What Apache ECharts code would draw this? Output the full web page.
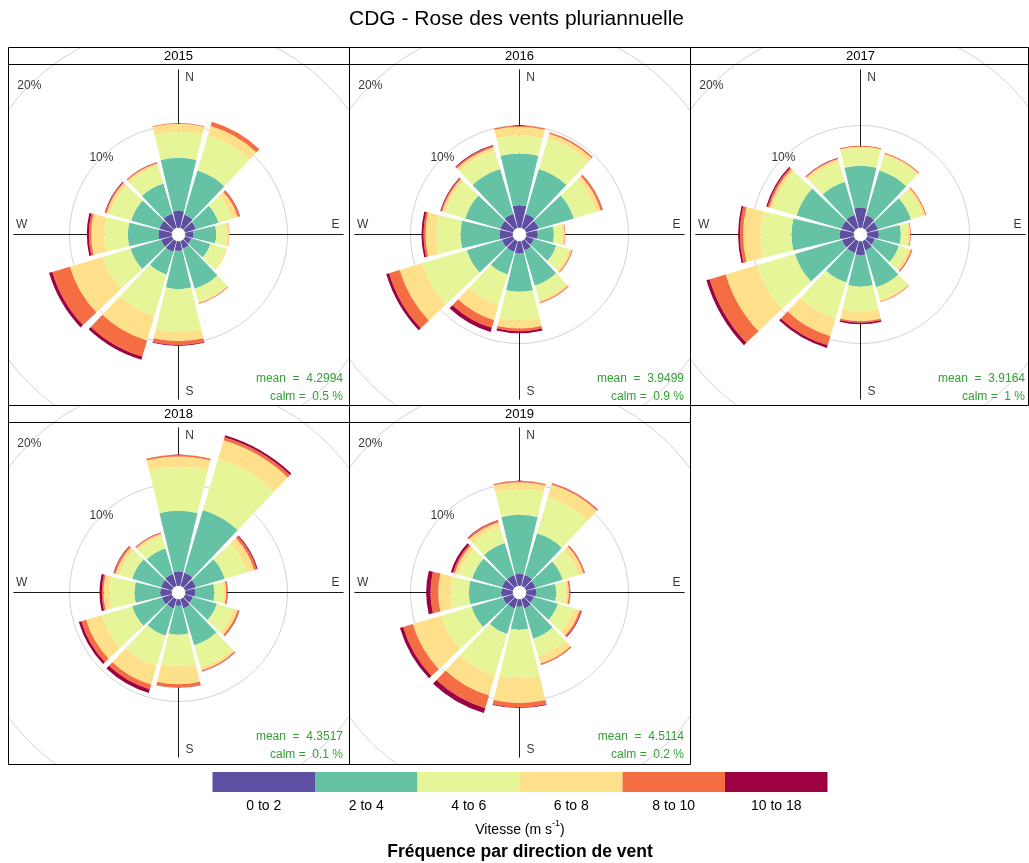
<!DOCTYPE html>
<html>
<head>
<meta charset="utf-8">
<title>CDG - Rose des vents pluriannuelle</title>
<script src="https://cdn.jsdelivr.net/npm/echarts@6/dist/echarts.min.js"></script>
<style>
  body { margin: 0; width: 1029px; height: 863px; overflow: hidden; background: #fff; position: relative; }
  #main { position: absolute; left: 0; top: 0; width: 1029px; height: 863px; }
  .panel { position: absolute; }
</style>
</head>
<body>
<div id="main"></div>
<div id="p2015" class="panel" style="left:8px;top:47px;width:342px;height:359px"></div>
<div id="p2016" class="panel" style="left:349px;top:47px;width:342px;height:359px"></div>
<div id="p2017" class="panel" style="left:690px;top:47px;width:339px;height:359px"></div>
<div id="p2018" class="panel" style="left:8px;top:405px;width:342px;height:360px"></div>
<div id="p2019" class="panel" style="left:349px;top:405px;width:342px;height:360px"></div>
<script>
// directions (30° sectors, clockwise from N)
const directions = ['N', '30', '60', 'E', '120', '150', 'S', '210', '240', 'W', '300', '330'];
const speedBins = ['0 to 2', '2 to 4', '4 to 6', '6 to 8', '8 to 10', '10 to 18'];
const binColors = ['#5E4FA2', '#66C2A5', '#E6F598', '#FEE08B', '#F46D43', '#9E0142'];
const years = ['2015', '2016', '2017', '2018', '2019'];
const meanSpeed = ['4.2994', '3.9499', '3.9164', '4.3517', '4.5114'];
const calmPct = ['0.5', '0.9', '1', '0.1', '0.2'];
const percentTicks = [10, 20];

// frequency (%) per speed bin (rows) and direction (columns)
const freq2015 = [
  [1.63, 1.34, 1.11, 0.78, 0.62, 0.78, 0.92, 1.11, 1.11, 1.27, 1.27, 1.44],
  [5.20, 4.51, 2.29, 2.23, 1.96, 4.09, 3.75, 2.29, 3.11, 3.01, 2.88, 3.10],
  [2.55, 3.59, 1.40, 1.04, 1.57, 1.31, 4.19, 4.25, 2.87, 2.29, 2.19, 1.80],
  [0.78, 0.98, 0.56, 0.23, 0.16, 0.16, 0.91, 2.51, 3.33, 1.31, 0.33, 0.26],
  [0.07, 0.43, 0.23, 0.03, 0.00, 0.07, 0.39, 1.64, 1.80, 0.22, 0.13, 0.10],
  [0.00, 0.00, 0.03, 0.00, 0.00, 0.00, 0.07, 0.32, 0.33, 0.20, 0.06, 0.03]
];
const freq2016 = [
  [2.19, 1.44, 1.27, 1.11, 0.78, 0.95, 1.18, 1.11, 1.11, 1.27, 1.27, 1.44],
  [5.06, 4.57, 3.60, 1.57, 2.29, 3.59, 3.75, 2.29, 3.60, 3.83, 3.60, 4.57],
  [1.80, 3.11, 2.29, 0.82, 1.31, 1.47, 2.78, 3.10, 4.57, 2.38, 2.03, 1.87],
  [0.82, 0.49, 0.45, 0.26, 0.26, 0.23, 0.82, 1.57, 2.29, 1.05, 0.32, 0.36],
  [0.13, 0.16, 0.20, 0.06, 0.10, 0.10, 0.26, 0.79, 1.08, 0.20, 0.13, 0.16],
  [0.00, 0.00, 0.03, 0.00, 0.00, 0.00, 0.20, 0.42, 0.29, 0.19, 0.07, 0.06]
];
const freq2017 = [
  [1.93, 1.27, 1.11, 1.11, 0.78, 0.95, 1.34, 1.21, 1.21, 1.34, 1.27, 1.34],
  [4.12, 4.58, 3.37, 2.16, 2.46, 3.76, 3.10, 3.01, 4.80, 4.74, 4.58, 3.37],
  [1.76, 1.57, 1.21, 0.72, 0.91, 1.30, 2.46, 3.66, 3.92, 3.04, 2.45, 2.05],
  [0.10, 0.16, 0.26, 0.19, 0.33, 0.17, 0.91, 1.83, 3.17, 1.70, 0.33, 0.27],
  [0.10, 0.10, 0.10, 0.07, 0.10, 0.06, 0.16, 0.94, 1.64, 0.32, 0.19, 0.09],
  [0.00, 0.00, 0.00, 0.00, 0.03, 0.00, 0.13, 0.27, 0.33, 0.17, 0.13, 0.04]
];
const freq2018 = [
  [1.37, 1.34, 1.11, 0.95, 0.78, 0.95, 0.62, 0.95, 1.01, 1.11, 1.11, 1.21],
  [5.95, 6.41, 2.94, 1.89, 2.46, 3.76, 2.84, 2.78, 3.04, 2.52, 2.94, 2.61],
  [4.35, 5.22, 2.29, 0.92, 1.69, 2.28, 3.11, 3.10, 3.11, 2.45, 1.31, 1.21],
  [0.98, 1.90, 0.72, 0.23, 0.43, 0.30, 1.73, 1.90, 1.60, 0.59, 0.39, 0.30],
  [0.16, 0.33, 0.26, 0.13, 0.16, 0.10, 0.33, 0.49, 0.49, 0.16, 0.17, 0.09],
  [0.00, 0.19, 0.10, 0.03, 0.04, 0.03, 0.03, 0.36, 0.26, 0.23, 0.06, 0.04]
];
const freq2019 = [
  [1.14, 1.11, 0.95, 0.95, 0.78, 0.95, 0.69, 0.95, 1.01, 1.11, 1.11, 1.11],
  [5.79, 4.25, 2.78, 1.96, 2.46, 3.10, 2.28, 2.61, 3.21, 3.17, 3.04, 3.27],
  [2.55, 3.69, 1.63, 0.98, 1.63, 1.80, 4.74, 4.25, 3.10, 1.80, 1.37, 1.63],
  [0.65, 1.31, 0.49, 0.26, 0.59, 0.72, 2.45, 2.03, 2.91, 1.21, 0.40, 0.49],
  [0.13, 0.13, 0.13, 0.13, 0.16, 0.13, 0.43, 1.30, 0.98, 0.75, 0.19, 0.17],
  [0.00, 0.03, 0.03, 0.03, 0.07, 0.03, 0.06, 0.49, 0.33, 0.42, 0.23, 0.06]
];
const allFreq = [freq2015, freq2016, freq2017, freq2018, freq2019];

const FONT = '"Liberation Sans", Arial, Helvetica, sans-serif';
const hidden = { axisLine: { show: false }, axisTick: { show: false }, axisLabel: { show: false }, splitLine: { show: false } };

function buildPanel(idx) {
  const el = document.getElementById('p' + years[idx]);
  const w = el.clientWidth, h = el.clientHeight;
  const chart = echarts.init(el);
  const cx = 170.5, cy = 187.5;
  const freq = allFreq[idx];

  const series = speedBins.map((bin, i) => ({
    name: bin,
    type: 'bar',
    coordinateSystem: 'polar',
    polarIndex: 0,
    stack: 'freq',
    barCategoryGap: '10%',
    data: freq[i],
    itemStyle: { color: binColors[i] },
    silent: true,
    z: 3
  }));

  // N-S and E-W axes
  series.push(
    { type: 'line', coordinateSystem: 'polar', polarIndex: 1, data: [[15.5, 0], [15.5, 180]], symbol: 'none',
      lineStyle: { color: '#1a1a1a', width: 1 }, silent: true, z: 1 },
    { type: 'line', coordinateSystem: 'polar', polarIndex: 1, data: [[15.5, 90], [15.5, 270]], symbol: 'none',
      lineStyle: { color: '#1a1a1a', width: 1 }, silent: true, z: 1 }
  );

  // compass letters
  series.push({
    type: 'scatter', coordinateSystem: 'polar', polarIndex: 1, symbolSize: 1, silent: true, z: 4,
    itemStyle: { color: 'transparent' },
    label: { show: true, position: 'inside', color: '#000', fontSize: 12, fontFamily: FONT, formatter: p => p.name },
    data: [
      { name: 'N', value: [14.7, 0], label: { offset: [11, 0] } },
      { name: 'E', value: [14.7, 90], label: { offset: [0, -10] } },
      { name: 'S', value: [14.7, 180], label: { offset: [11, 0] } },
      { name: 'W', value: [14.7, 270], label: { offset: [0, -10] } }
    ]
  });

  // percentage labels on the grid circles
  series.push({
    type: 'scatter', coordinateSystem: 'polar', polarIndex: 1, symbolSize: 1, silent: true, z: 4,
    itemStyle: { color: 'transparent' },
    label: { show: true, position: 'inside', color: '#000', fontSize: 12, fontFamily: FONT, formatter: p => p.name },
    data: percentTicks.map(t => ({ name: t + '%', value: [t, 315] }))
  });

  chart.setOption({
    animation: false,
    polar: [
      { center: [cx, cy], radius: [7, 211] },
      { center: [cx, cy], radius: [7, 211] }
    ],
    angleAxis: [
      Object.assign({ polarIndex: 0, type: 'category', data: directions, startAngle: 105, clockwise: true }, hidden),
      Object.assign({ polarIndex: 1, type: 'value', min: 0, max: 360, startAngle: 90, clockwise: true }, hidden)
    ],
    radiusAxis: [
      Object.assign({ polarIndex: 0, type: 'value', min: 0, max: 20 }, hidden),
      {
        polarIndex: 1, type: 'value', min: 0, max: 20, interval: 10,
        axisLine: { show: false }, axisTick: { show: false }, axisLabel: { show: false },
        splitLine: { show: true, showMinLine: false, lineStyle: { color: '#d2d2d2', width: 1 } }
      }
    ],
    graphic: [
      { type: 'rect', shape: { x: 0.5, y: 0.5, width: w - 1, height: h - 1 }, style: { fill: 'none', stroke: '#000', lineWidth: 1 }, z: 100, silent: true },
      { type: 'line', shape: { x1: 0, y1: 17.5, x2: w, y2: 17.5 }, style: { stroke: '#000', lineWidth: 1 }, z: 100, silent: true },
      { type: 'text', x: cx, y: 9.5, z: 100, silent: true,
        style: { text: years[idx], fill: '#000', font: '13px ' + FONT, align: 'center', verticalAlign: 'middle', textAlign: 'center', textVerticalAlign: 'middle' } },
      { type: 'text', x: 335, y: 332, z: 100, silent: true,
        style: { text: 'mean  =  ' + meanSpeed[idx], fill: '#33a033', font: '12px ' + FONT, align: 'right', verticalAlign: 'middle', textAlign: 'right', textVerticalAlign: 'middle' } },
      { type: 'text', x: 335, y: 350, z: 100, silent: true,
        style: { text: 'calm =  ' + calmPct[idx] + ' %', fill: '#33a033', font: '12px ' + FONT, align: 'right', verticalAlign: 'middle', textAlign: 'right', textVerticalAlign: 'middle' } }
    ],
    series: series
  });
}

years.forEach((y, i) => buildPanel(i));

// title and colour key
const main = echarts.init(document.getElementById('main'));
main.setOption({
  animation: false,
  grid: { left: 212.5, top: 772, width: 615, height: 20, outerBoundsMode: 'none' },
  xAxis: {
    type: 'category', data: speedBins,
    axisLine: { show: false }, axisTick: { show: false },
    axisLabel: { margin: 7, fontSize: 14, color: '#000', fontFamily: FONT }
  },
  yAxis: { type: 'value', min: 0, max: 1, show: false },
  series: [{
    type: 'bar', barCategoryGap: 0, silent: true,
    data: speedBins.map((b, i) => ({ value: 1, itemStyle: { color: binColors[i] } }))
  }],
  graphic: [
    { type: 'text', x: 516.5, y: 19, silent: true,
      style: { text: 'CDG - Rose des vents pluriannuelle', fill: '#000', font: '21px ' + FONT, align: 'center', verticalAlign: 'middle', textAlign: 'center', textVerticalAlign: 'middle' } },
    { type: 'text', x: 520, y: 828, silent: true,
      style: {
        text: '{a|Vitesse (m s}{b|-1}{a|)}', align: 'center', verticalAlign: 'middle', textAlign: 'center', textVerticalAlign: 'middle',
        rich: {
          a: { fontSize: 14, fontFamily: FONT, fill: '#000', color: '#000', lineHeight: 18, verticalAlign: 'bottom' },
          b: { fontSize: 9, fontFamily: FONT, fill: '#000', color: '#000', lineHeight: 18, verticalAlign: 'top' }
        }
      } },
    { type: 'text', x: 520, y: 852, silent: true,
      style: { text: 'Fréquence par direction de vent', fill: '#000', font: 'bold 17.5px ' + FONT, align: 'center', verticalAlign: 'middle', textAlign: 'center', textVerticalAlign: 'middle' } }
  ]
});
</script>
</body>
</html>
